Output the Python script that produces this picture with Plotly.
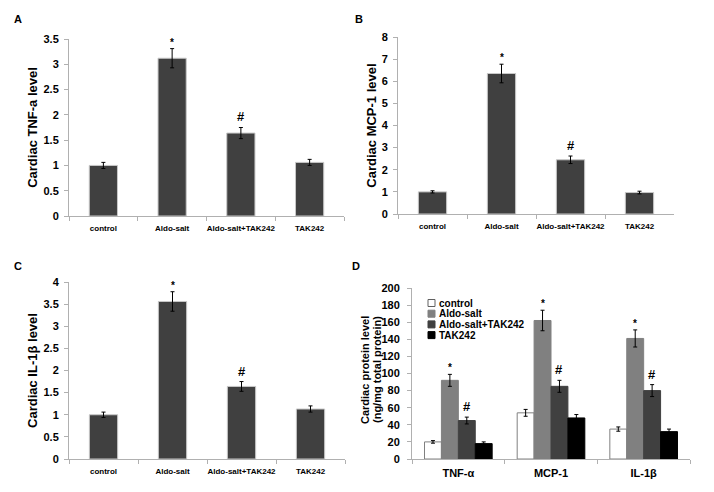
import plotly.graph_objects as go

groups = ["control", "Aldo-salt", "Aldo-salt+TAK242", "TAK242"]

tnf_vals = [1.0, 3.12, 1.64, 1.06]
tnf_err = [0.06, 0.19, 0.11, 0.06]

mcp_vals = [1.0, 6.35, 2.45, 0.97]
mcp_err = [0.05, 0.42, 0.17, 0.06]

il_vals = [1.0, 3.56, 1.64, 1.13]
il_err = [0.06, 0.22, 0.11, 0.07]

cytokines = ["TNF-α", "MCP-1", "IL-1β"]
d_control = [20, 54, 35]
d_control_err = [1.5, 4, 2.5]
d_aldo = [92, 162, 141]
d_aldo_err = [7, 12, 10]
d_aldotak = [45, 85, 80]
d_aldotak_err = [4, 7, 7]
d_tak = [18, 48, 32]
d_tak_err = [2, 4, 3]
d_title_lines = ["Cardiac protein level", "(ng/mg total protein)"]

marks_abc = ["", "*", "#", ""]

W, H = 714, 492
FONT = "Liberation Sans, Arial, sans-serif"
AXC = "#b0b0b0"

def px(x):
    return x / W

def py(y):
    return 1 - y / H

fig = go.Figure()

panels = [
    ("x", "y", tnf_vals, tnf_err, [0, 3.5], 0.5, (69, 344), (39, 216), "Cardiac TNF-a level"),
    ("x2", "y2", mcp_vals, mcp_err, [0, 8], 1, (398, 674), (37, 214), "Cardiac MCP-1 level"),
    ("x3", "y3", il_vals, il_err, [0, 4], 0.5, (69, 345), (282, 459), "Cardiac IL-1β level"),
]

layout_axes = {}
annotations = []
for i, (xa, ya, vals, errs, rng, dt, (x0, x1), (y0, y1), title) in enumerate(panels):
    fig.add_trace(go.Bar(
        x=groups, y=vals, xaxis=xa, yaxis=ya,
        marker=dict(color="#404040", line=dict(color="#c8c8c8", width=1)),
        error_y=dict(type="data", array=errs, color="black", thickness=1, width=2),
        width=0.41, showlegend=False,
    ))
    xkey = "xaxis" if xa == "x" else "xaxis" + xa[1:]
    ykey = "yaxis" if ya == "y" else "yaxis" + ya[1:]
    layout_axes[xkey] = dict(
        domain=[px(x0), px(x1)], anchor=ya, showline=True, linecolor=AXC, linewidth=1,
        ticks="outside", tickson="boundaries", ticklen=4, tickcolor=AXC, tickangle=0,
        tickfont=dict(family=FONT, size=8, color="black", weight="bold"),
        showgrid=False, zeroline=False, ticklabelstandoff=4, automargin=False,
    )
    layout_axes[ykey] = dict(
        domain=[py(y1), py(y0)], anchor=xa, range=rng, dtick=dt, showline=True,
        linecolor=AXC, linewidth=1, ticks="outside", ticklen=4, tickcolor=AXC,
        tickfont=dict(family=FONT, size=11, color="black", weight="bold"),
        showgrid=False, zeroline=False, ticklabelstandoff=3, automargin=False,
        title=dict(text=title, font=dict(family=FONT, size=13, color="black", weight="bold"), standoff=2),
    )
    for g, v, e, m in zip(groups, vals, errs, marks_abc):
        if m:
            annotations.append(dict(
                x=g, y=v + e, xref=xa, yref=ya, text=m, showarrow=False,
                yanchor="bottom", yshift=1 if m == "#" else -1,
                font=dict(family=FONT, size=13 if m == "#" else 10, color="black", weight="bold"),
            ))

# Panel D
d_series = [
    ("control", d_control, d_control_err, "white", "#808080", ["", "", ""]),
    ("Aldo-salt", d_aldo, d_aldo_err, "#808080", "#808080", ["*", "*", "*"]),
    ("Aldo-salt+TAK242", d_aldotak, d_aldotak_err, "#404040", "#404040", ["#", "#", "#"]),
    ("TAK242", d_tak, d_tak_err, "#000000", "#000000", ["", "", ""]),
]
for k, (name, vals, errs, col, lc, mk) in enumerate(d_series):
    fig.add_trace(go.Bar(
        x=cytokines, y=vals, name=name, xaxis="x4", yaxis="y4",
        marker=dict(color=col, line=dict(color=lc, width=1)),
        error_y=dict(type="data", array=errs, color="black", thickness=1, width=2),
        offsetgroup=str(k), showlegend=False,
    ))

layout_axes["xaxis4"] = dict(
    domain=[px(412), px(690)], anchor="y4", showline=True, linecolor=AXC, linewidth=1,
    ticks="outside", tickson="boundaries", ticklen=4, tickcolor=AXC, tickangle=0,
    tickfont=dict(family=FONT, size=11, color="black", weight="bold"),
    showgrid=False, zeroline=False, ticklabelstandoff=4, automargin=False,
)
layout_axes["yaxis4"] = dict(
    domain=[py(459), py(288)], anchor="x4", range=[0, 200], dtick=20, showline=True,
    linecolor=AXC, linewidth=1, ticks="outside", ticklen=4, tickcolor=AXC,
    tickfont=dict(family=FONT, size=11, color="black", weight="bold"),
    showgrid=False, zeroline=False, ticklabelstandoff=5, automargin=False,
)
# D y-title as two tightly spaced rotated lines
for line, lx in zip(d_title_lines, [365, 377]):
    annotations.append(dict(x=px(lx), y=py(370), xref="paper", yref="paper", text=line,
                            showarrow=False, textangle=-90, xanchor="center", yanchor="middle",
                            font=dict(family=FONT, size=11, color="black", weight="bold")))

# significance marks in D: offset each bar within the group
n = len(d_series)
group_w = 0.73
bw = group_w / n
shapes = []
for k, (name, vals, errs, col, lc, mk) in enumerate(d_series):
    off = -group_w / 2 + bw * (k + 0.5)
    for j, (v, e, m) in enumerate(zip(vals, errs, mk)):
        if m:
            annotations.append(dict(
                x=j + off, y=v + e, xref="x4", yref="y4", text=m, showarrow=False,
                yanchor="bottom", yshift=1 if m == "#" else -1,
                font=dict(family=FONT, size=13 if m == "#" else 10, color="black", weight="bold"),
            ))
    # manual compact legend
    ly = 303 + k * 10.7
    shapes.append(dict(type="rect", xref="paper", yref="paper",
                       x0=px(428), x1=px(435), y0=py(ly + 3.5), y1=py(ly - 3.5),
                       fillcolor=col, line=dict(color=lc if col != "white" else "#606060", width=1)))
    annotations.append(dict(x=px(437), y=py(ly), xref="paper", yref="paper", text=name,
                            showarrow=False, xanchor="left", yanchor="middle",
                            font=dict(family=FONT, size=10, color="black", weight="bold")))

# panel letters
for lbl, (lx, ly) in zip(["A", "B", "C", "D"], [(18, 19), (359, 19), (18, 266), (356, 266)]):
    annotations.append(dict(x=px(lx), y=py(ly), xref="paper", yref="paper", text=lbl,
                            showarrow=False, xanchor="center", yanchor="middle",
                            font=dict(family=FONT, size=11, color="black", weight="bold")))

fig.update_layout(
    width=W, height=H, margin=dict(l=0, r=0, t=0, b=0),
    paper_bgcolor="white", plot_bgcolor="white",
    barmode="group", bargap=0.27, bargroupgap=0,
    annotations=annotations, shapes=shapes,
    font=dict(family=FONT, color="black"),
    **layout_axes,
)

fig.write_html("out.html", config={"displayModeBar": False},
               post_script="document.body.style.margin='0';")
